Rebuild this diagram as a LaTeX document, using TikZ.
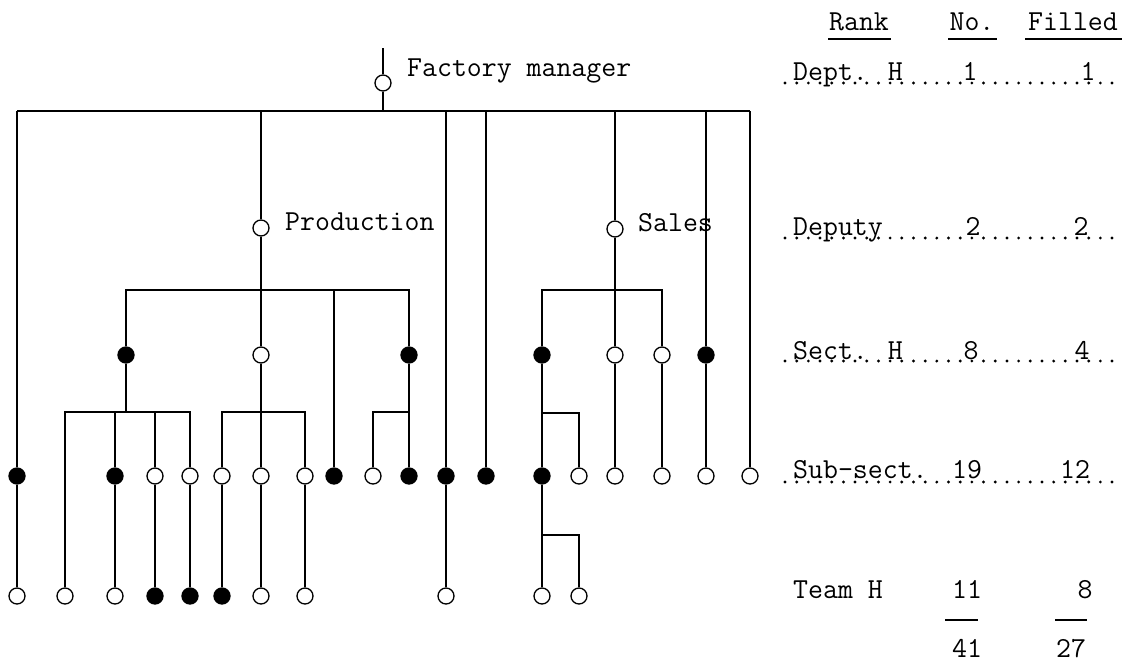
\documentclass[tikz,border=0pt]{standalone}
\usepackage{fontspec}
\newcommand\twfont{\fontsize{29}{30}\selectfont\ttfamily}
\begin{document}
\begin{tikzpicture}[x=1pt,y=-1pt,
  ln/.style={line width=1.3pt},
  ul/.style={line width=1.2pt},
  opn/.style={circle,draw,line width=1.3pt,fill=white,minimum size=16pt,inner sep=0pt},
  fil/.style={circle,draw,line width=1.3pt,fill=black,minimum size=16pt,inner sep=0pt},
  lbl/.style={anchor=base west,inner sep=0pt,font=\twfont},
  num/.style={anchor=base,inner sep=0pt,font=\twfont},
  dotrow/.style={line width=3.2pt,line cap=round,dash pattern=on 0pt off 11.68pt}]
\useasboundingbox (0,0) rectangle (1125,664);

% ---- top ----
\coordinate (fmtop) at (383,48);
\node[opn] (fm) at (383,83) {};
\coordinate (bar) at (383,111);
\coordinate (bL) at (17,111);
\coordinate (bR) at (750,111);
\draw[ln] (fmtop) -- (fm) -- (bar);
\draw[ln] (bL) -- (bR);
\node[lbl] (fmlab) at (407,76) {Factory manager};

% ---- deputies ----
\node[opn] (P) at (261,228) {};
\node[opn] (S) at (615,229) {};
\node[lbl] (plab) at (285,230) {Production};
\node[lbl] (slab) at (638,231) {Sales};
\coordinate (pb) at (261,290);
\coordinate (pb8) at (334,290);
\coordinate (sb) at (615,290);

% ---- sect heads ----
\node[fil] (s1) at (126,355) {};
\node[opn] (s2) at (261,355) {};
\node[fil] (s3) at (409,355) {};
\node[fil] (s4) at (542,355) {};
\node[opn] (s5) at (615,355) {};
\node[opn] (s6) at (662,355) {};
\node[fil] (s7) at (706,355) {};

\coordinate (b1) at (126,412);
\coordinate (b2) at (261,412);
\coordinate (b3) at (409,412);
\coordinate (b4) at (542,413);
\coordinate (b5) at (542,535);

% ---- sub-sections ----
\node[fil] (u1) at (17,476) {};
\node[fil] (u2) at (115,476) {};
\node[opn] (u3) at (155,476) {};
\node[opn] (u4) at (190,476) {};
\node[opn] (u5) at (222,476) {};
\node[opn] (u6) at (261,476) {};
\node[opn] (u7) at (305,476) {};
\node[fil] (u8) at (334,476) {};
\node[opn] (u9) at (373,476) {};
\node[fil] (u10) at (409,476) {};
\node[fil] (u11) at (446,476) {};
\node[fil] (u12) at (486,476) {};
\node[fil] (u13) at (542,476) {};
\node[opn] (u14) at (579,476) {};
\node[opn] (u15) at (615,476) {};
\node[opn] (u16) at (662,476) {};
\node[opn] (u17) at (706,476) {};
\node[opn] (u18) at (750,476) {};

% ---- team heads ----
\node[opn] (t1) at (17,596) {};
\node[opn] (t2) at (65,596) {};
\node[opn] (t3) at (115,596) {};
\node[fil] (t4) at (155,596) {};
\node[fil] (t5) at (190,596) {};
\node[fil] (t6) at (222,596) {};
\node[opn] (t7) at (261,596) {};
\node[opn] (t8) at (305,596) {};
\node[opn] (t9) at (446,596) {};
\node[opn] (t10) at (542,596) {};
\node[opn] (t11) at (579,596) {};

% ---- connectors ----
\draw[ln] (bL) -- (u1) -- (t1);
\draw[ln] (P |- bL) -- (P) -- (pb);
\draw[ln] (s1) |- (pb) -| (s3);
\draw[ln] (pb) -- (s2);
\draw[ln] (pb8) -- (u8);
\draw[ln] (s1) -- (b1);
\draw[ln] (t2) |- (b1) -| (u4);
\draw[ln] (u2 |- b1) -- (u2) -- (t3);
\draw[ln] (u3 |- b1) -- (u3) -- (t4);
\draw[ln] (u4) -- (t5);
\draw[ln] (s2) -- (b2);
\draw[ln] (u5) |- (b2) -| (u7);
\draw[ln] (b2) -- (u6) -- (t7);
\draw[ln] (u5) -- (t6);
\draw[ln] (u7) -- (t8);
\draw[ln] (s3) -- (b3);
\draw[ln] (u9) |- (b3) -- (u10);
\draw[ln] (u11 |- bL) -- (u11) -- (t9);
\draw[ln] (u12 |- bL) -- (u12);
\draw[ln] (S |- bL) -- (S) -- (sb);
\draw[ln] (s4) |- (sb) -| (s6);
\draw[ln] (sb) -- (s5) -- (u15);
\draw[ln] (s6) -- (u16);
\draw[ln] (s4) -- (b4) -- (u13);
\draw[ln] (b4) -| (u14);
\draw[ln] (u13) -- (b5) -- (t10);
\draw[ln] (b5) -| (t11);
\draw[ln] (s7 |- bL) -- (s7) -- (u17);
\draw[ln] (u18 |- bL) -- (u18);

% ---- table ----
\node[num] (hrank) at (859,30) {Rank};
\node[num] (hno) at (972,30) {No.};
\node[num] (hfill) at (1073,30) {Filled};
\draw[ul] (828,39) -- (891,39);
\draw[ul] (948,39) -- (997,39);
\draw[ul] (1025,39) -- (1122,39);

\draw[dotrow] (785,83) -- (1113,83);
\draw[dotrow] (785,238) -- (1113,238);
\draw[dotrow] (785,361) -- (1113,361);
\draw[dotrow] (785,482) -- (1113,482);

\node[lbl] (r1) at (793,80) {Dept. H};
\node[num] (n1) at (970,80) {1};
\node[num] (f1) at (1088,80) {1};
\node[lbl] (r2) at (793,235) {Deputy};
\node[num] (n2) at (973,235) {2};
\node[num] (f2) at (1081,235) {2};
\node[lbl] (r3) at (793,359) {Sect. H};
\node[num] (n3) at (971,359) {8};
\node[num] (f3) at (1082,359) {4};
\node[lbl] (r4) at (793,478) {Sub-sect.};
\node[num] (n4) at (967,478) {19};
\node[num] (f4) at (1075,478) {12};
\node[lbl] (r5) at (793,598) {Team H};
\node[num] (n5) at (967,598) {11};
\node[num] (f5) at (1085,598) {8};
\draw[ul] (945,620) -- (978,620);
\draw[ul] (1055,620) -- (1087,620);
\node[num] (n6) at (967,657) {41};
\node[num] (f6) at (1071,657) {27};
\end{tikzpicture}
\end{document}
